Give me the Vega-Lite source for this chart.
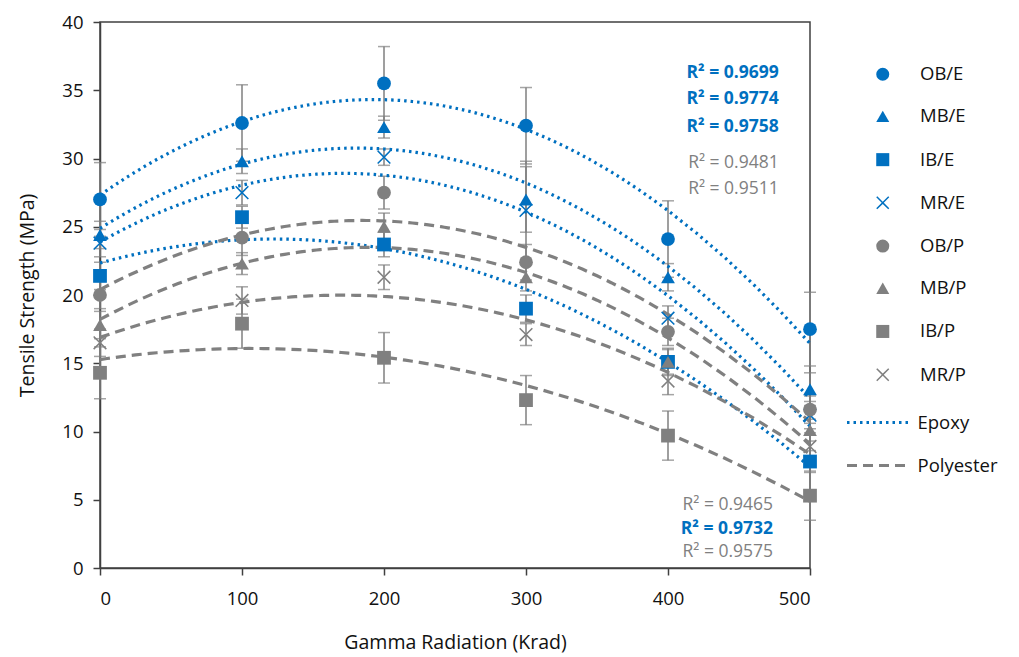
{
  "$schema": "https://vega.github.io/schema/vega-lite/v6.json",
  "width": 710,
  "height": 546,
  "autosize": {"type": "none"},
  "padding": {"left": 100, "top": 22, "right": 209, "bottom": 89},
  "background": "white",
  "config": {
    "font": "Open Sans",
    "view": {"stroke": "#404040", "strokeWidth": 1.5},
    "axis": {"grid": false, "domainColor": "#404040", "domainWidth": 1.5, "tickColor": "#404040", "tickWidth": 1.5, "labelFont": "Open Sans", "labelFontSize": 18.5, "labelColor": "#111", "titleFont": "Open Sans", "titleFontSize": 19.5, "titleFontWeight": "normal", "titleColor": "#111"},
    "legend": {"labelFont": "Open Sans", "labelFontSize": 18.5, "labelColor": "#111", "padding": 0}
  },
  "datasets": {
    "pts": [
      {"x": 0, "y": 27.0, "err": 2.7, "series": "OB/E", "resin": "Epoxy"},
      {"x": 100, "y": 32.6, "err": 2.8, "series": "OB/E", "resin": "Epoxy"},
      {"x": 200, "y": 35.5, "err": 2.7, "series": "OB/E", "resin": "Epoxy"},
      {"x": 300, "y": 32.4, "err": 2.8, "series": "OB/E", "resin": "Epoxy"},
      {"x": 400, "y": 24.1, "err": 2.8, "series": "OB/E", "resin": "Epoxy"},
      {"x": 500, "y": 17.5, "err": 2.7, "series": "OB/E", "resin": "Epoxy"},
      {"x": 0, "y": 24.4, "err": 1.0, "series": "MB/E", "resin": "Epoxy"},
      {"x": 100, "y": 29.8, "err": 0.9, "series": "MB/E", "resin": "Epoxy"},
      {"x": 200, "y": 32.3, "err": 0.8, "series": "MB/E", "resin": "Epoxy"},
      {"x": 300, "y": 27.0, "err": 2.4, "series": "MB/E", "resin": "Epoxy"},
      {"x": 400, "y": 21.3, "err": 1.0, "series": "MB/E", "resin": "Epoxy"},
      {"x": 500, "y": 13.1, "err": 1.2, "series": "MB/E", "resin": "Epoxy"},
      {"x": 0, "y": 21.4, "err": 1.0, "series": "IB/E", "resin": "Epoxy"},
      {"x": 100, "y": 25.7, "err": 0.8, "series": "IB/E", "resin": "Epoxy"},
      {"x": 200, "y": 23.7, "err": 0.9, "series": "IB/E", "resin": "Epoxy"},
      {"x": 300, "y": 19.0, "err": 1.0, "series": "IB/E", "resin": "Epoxy"},
      {"x": 400, "y": 15.1, "err": 1.0, "series": "IB/E", "resin": "Epoxy"},
      {"x": 500, "y": 7.8, "err": 0.8, "series": "IB/E", "resin": "Epoxy"},
      {"x": 0, "y": 23.8, "err": 1.0, "series": "MR/E", "resin": "Epoxy"},
      {"x": 100, "y": 27.5, "err": 0.9, "series": "MR/E", "resin": "Epoxy"},
      {"x": 200, "y": 30.1, "err": 0.6, "series": "MR/E", "resin": "Epoxy"},
      {"x": 300, "y": 26.2, "err": 3.6, "series": "MR/E", "resin": "Epoxy"},
      {"x": 400, "y": 18.3, "err": 0.9, "series": "MR/E", "resin": "Epoxy"},
      {"x": 500, "y": 11.2, "err": 1.0, "series": "MR/E", "resin": "Epoxy"},
      {"x": 0, "y": 20.0, "err": 1.0, "series": "OB/P", "resin": "Polyester"},
      {"x": 100, "y": 24.2, "err": 1.3, "series": "OB/P", "resin": "Polyester"},
      {"x": 200, "y": 27.5, "err": 1.2, "series": "OB/P", "resin": "Polyester"},
      {"x": 300, "y": 22.4, "err": 1.3, "series": "OB/P", "resin": "Polyester"},
      {"x": 400, "y": 17.3, "err": 1.0, "series": "OB/P", "resin": "Polyester"},
      {"x": 500, "y": 11.6, "err": 1.0, "series": "OB/P", "resin": "Polyester"},
      {"x": 0, "y": 17.8, "err": 1.0, "series": "MB/P", "resin": "Polyester"},
      {"x": 100, "y": 22.3, "err": 0.8, "series": "MB/P", "resin": "Polyester"},
      {"x": 200, "y": 25.0, "err": 1.0, "series": "MB/P", "resin": "Polyester"},
      {"x": 300, "y": 21.3, "err": 1.0, "series": "MB/P", "resin": "Polyester"},
      {"x": 400, "y": 15.1, "err": 0.9, "series": "MB/P", "resin": "Polyester"},
      {"x": 500, "y": 10.1, "err": 0.8, "series": "MB/P", "resin": "Polyester"},
      {"x": 0, "y": 14.3, "err": 1.9, "series": "IB/P", "resin": "Polyester"},
      {"x": 100, "y": 17.9, "err": 1.8, "series": "IB/P", "resin": "Polyester"},
      {"x": 200, "y": 15.4, "err": 1.85, "series": "IB/P", "resin": "Polyester"},
      {"x": 300, "y": 12.3, "err": 1.8, "series": "IB/P", "resin": "Polyester"},
      {"x": 400, "y": 9.7, "err": 1.8, "series": "IB/P", "resin": "Polyester"},
      {"x": 500, "y": 5.3, "err": 1.8, "series": "IB/P", "resin": "Polyester"},
      {"x": 0, "y": 16.5, "err": 1.0, "series": "MR/P", "resin": "Polyester"},
      {"x": 100, "y": 19.6, "err": 1.0, "series": "MR/P", "resin": "Polyester"},
      {"x": 200, "y": 21.3, "err": 0.9, "series": "MR/P", "resin": "Polyester"},
      {"x": 300, "y": 17.1, "err": 0.8, "series": "MR/P", "resin": "Polyester"},
      {"x": 400, "y": 13.7, "err": 1.0, "series": "MR/P", "resin": "Polyester"},
      {"x": 500, "y": 8.9, "err": 1.0, "series": "MR/P", "resin": "Polyester"}
    ],
    "r2": [
      {"label": "R² = 0.9699", "resin": "Epoxy", "x": 478, "y": 36.3},
      {"label": "R² = 0.9774", "resin": "Epoxy", "x": 478, "y": 34.35},
      {"label": "R² = 0.9758", "resin": "Epoxy", "x": 478, "y": 32.3},
      {"label": "R² = 0.9481", "resin": "Polyester", "x": 478, "y": 29.7},
      {"label": "R² = 0.9511", "resin": "Polyester", "x": 478, "y": 27.75},
      {"label": "R² = 0.9465", "resin": "Polyester", "x": 474, "y": 4.65},
      {"label": "R² = 0.9732", "resin": "Epoxy", "x": 474, "y": 2.85},
      {"label": "R² = 0.9575", "resin": "Polyester", "x": 474, "y": 1.15}
    ]
  },
  "encoding": {
    "x": {"field": "x", "type": "quantitative", "scale": {"domain": [0, 500], "nice": false},
      "axis": {"values": [0, 100, 200, 300, 400, 500], "tickSize": 7, "labelPadding": 14, "title": "Gamma Radiation (Krad)", "titlePadding": 26}},
    "y": {"field": "y", "type": "quantitative", "scale": {"domain": [0, 40], "nice": false},
      "axis": {"values": [0, 5, 10, 15, 20, 25, 30, 35, 40], "tickSize": 7, "labelPadding": 10, "title": "Tensile Strength (MPa)", "titlePadding": 24}}
  },
  "layer": [
    {
      "data": {"name": "pts"},
      "mark": {"type": "errorbar", "ticks": {"size": 12, "color": "#7f7f7f", "strokeWidth": 1.5}, "color": "#7f7f7f", "thickness": 1.5},
      "encoding": {"yError": {"field": "err"}, "detail": {"field": "series"}}
    },
    {
      "data": {"name": "pts"},
      "transform": [{"regression": "y", "on": "x", "groupby": ["series", "resin"], "method": "poly", "order": 2, "extent": [0, 500]}],
      "mark": {"type": "line", "strokeWidth": 3.2},
      "encoding": {
        "detail": {"field": "series"},
        "stroke": {"field": "resin", "type": "nominal", "scale": {"domain": ["Epoxy", "Polyester"], "range": ["#0070C0", "#808080"]},
          "legend": {"title": null, "orient": "none", "legendX": 769.5, "legendY": 391, "symbolType": "M-4,0H4", "symbolSize": 256, "symbolStrokeWidth": 3, "rowPadding": 24, "labelOffset": 29}},
        "strokeDash": {"field": "resin", "type": "nominal", "scale": {"domain": ["Epoxy", "Polyester"], "range": [[2.5, 4], [10, 6]]},
          "legend": {"title": null, "orient": "none", "legendX": 769.5, "legendY": 391, "symbolType": "M-4,0H4", "symbolSize": 256, "symbolStrokeWidth": 3, "rowPadding": 24, "labelOffset": 29}}
      }
    },
    {
      "data": {"name": "pts"},
      "mark": {"type": "point", "filled": true, "opacity": 1, "size": 190, "strokeWidth": 0},
      "encoding": {
        "fill": {"field": "series", "type": "nominal",
          "scale": {"domain": ["OB/E", "MB/E", "IB/E", "MR/E", "OB/P", "MB/P", "IB/P", "MR/P"],
            "range": ["#0070C0", "#0070C0", "#0070C0", "#0070C0", "#808080", "#808080", "#808080", "#808080"]},
          "legend": {"title": null, "orient": "none", "legendX": 773.5, "legendY": 43, "rowPadding": 23.2, "symbolSize": 170, "labelOffset": 28}},
        "shape": {"field": "series", "type": "nominal",
          "scale": {"domain": ["OB/E", "MB/E", "IB/E", "MR/E", "OB/P", "MB/P", "IB/P", "MR/P"],
            "range": ["circle", "triangle-up", "square", "M-1,-0.84L-0.84,-1L0,-0.16L0.84,-1L1,-0.84L0.16,0L1,0.84L0.84,1L0,0.16L-0.84,1L-1,0.84L-0.16,0Z", "circle", "triangle-up", "square", "M-1,-0.84L-0.84,-1L0,-0.16L0.84,-1L1,-0.84L0.16,0L1,0.84L0.84,1L0,0.16L-0.84,1L-1,0.84L-0.16,0Z"]},
          "legend": {"title": null, "orient": "none", "legendX": 773.5, "legendY": 43, "rowPadding": 23.2, "symbolSize": 170, "labelOffset": 28}}
      }
    },
    {
      "data": {"name": "r2"},
      "transform": [{"filter": "datum.resin == 'Epoxy'"}],
      "mark": {"type": "text", "align": "right", "baseline": "middle", "fontSize": 17.5, "fontWeight": "bold", "color": "#0070C0"},
      "encoding": {"text": {"field": "label"}}
    },
    {
      "data": {"name": "r2"},
      "transform": [{"filter": "datum.resin == 'Polyester'"}],
      "mark": {"type": "text", "align": "right", "baseline": "middle", "fontSize": 17.5, "color": "#808080"},
      "encoding": {"text": {"field": "label"}}
    }
  ]
}
